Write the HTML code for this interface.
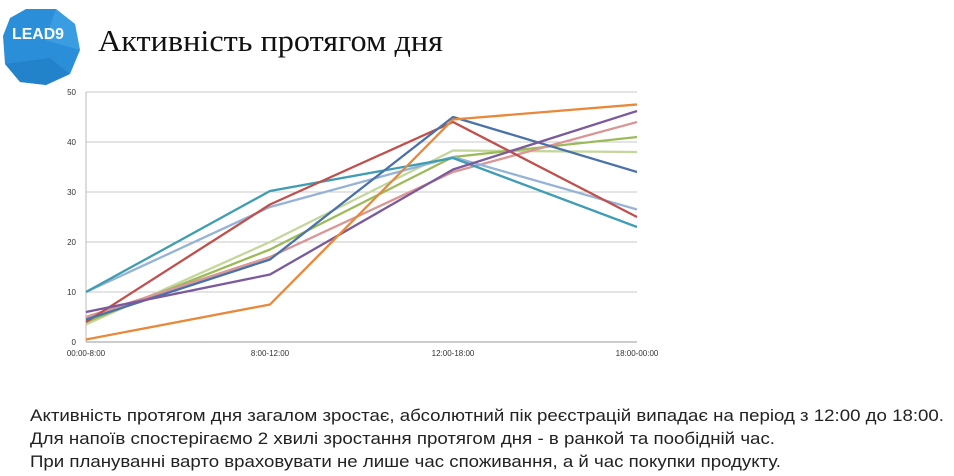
<!DOCTYPE html>
<html><head><meta charset="utf-8"><style>html,body{margin:0;padding:0;background:#fff;width:954px;height:476px;overflow:hidden}</style></head>
<body>
<svg width="954" height="476" xmlns="http://www.w3.org/2000/svg" font-family="Liberation Sans, sans-serif">
<rect width="954" height="476" fill="#fff"/>
<!-- logo -->
<polygon points="26,9 56,9 75,24 80,50 70,74 46,85 20,82 5,64 3,36 10,18" fill="#2a8fd8"/>
<polygon points="46,85 20,82 5,64 50,58 70,74" fill="#1f7cc4" opacity="0.7"/>
<polygon points="56,9 75,24 80,50 45,40" fill="#48a6e8" opacity="0.6"/>
<text x="12" y="39" font-size="16" font-weight="bold" fill="#fff" textLength="52" lengthAdjust="spacingAndGlyphs">LEAD9</text>
<!-- title -->
<text x="98" y="51" font-family="Liberation Serif, serif" font-size="31" fill="#111" textLength="345" lengthAdjust="spacingAndGlyphs">Активність протягом дня</text>
<!-- grid -->
<g stroke="#c8c8c8" stroke-width="1">
<line x1="86" y1="92" x2="637" y2="92"/>
<line x1="86" y1="142" x2="637" y2="142"/>
<line x1="86" y1="192" x2="637" y2="192"/>
<line x1="86" y1="242" x2="637" y2="242"/>
<line x1="86" y1="292" x2="637" y2="292"/>
</g>
<line x1="86" y1="92" x2="86" y2="342" stroke="#bbb"/>
<line x1="86" y1="342" x2="637" y2="342" stroke="#999"/>
<g font-size="8" fill="#333" text-anchor="end">
<text x="76" y="95">50</text><text x="76" y="145">40</text><text x="76" y="195">30</text>
<text x="76" y="245">20</text><text x="76" y="295">10</text><text x="76" y="345">0</text>
</g>
<g font-size="8" fill="#333" text-anchor="middle">
<text x="86" y="356">00:00-8:00</text><text x="270" y="356">8:00-12:00</text>
<text x="453" y="356">12:00-18:00</text><text x="637" y="356">18:00-00:00</text>
</g>
<g fill="none" stroke-width="2.3" stroke-linejoin="round">
<polyline stroke="#c3d69b" points="86,324.5 270,242 453,150.5 637,152"/>
<polyline stroke="#9bbb59" points="86,322 270,249.5 453,157 637,137"/>
<polyline stroke="#d99694" points="86,317 270,257 453,172 637,122"/>
<polyline stroke="#95b3d7" points="86,292 270,207 453,157 637,209.5"/>
<polyline stroke="#3f9db3" points="86,292 270,191 453,158 637,227"/>
<polyline stroke="#c0504d" points="86,322 270,204.5 453,122 637,217"/>
<polyline stroke="#4a72a8" points="86,319.5 270,259.5 453,117 637,172"/>
<polyline stroke="#7b5a9c" points="86,312 270,274.5 453,169.5 637,111"/>
<polyline stroke="#e8883a" points="86,339.5 270,304.5 453,119.5 637,104.5"/>
</g>
<g font-size="17" fill="#222">
<text x="30" y="421" textLength="914" lengthAdjust="spacingAndGlyphs">Активність протягом дня загалом зростає, абсолютний пік реєстрацій випадає на період з 12:00 до 18:00.</text>
<text x="30" y="444" textLength="745" lengthAdjust="spacingAndGlyphs">Для напоїв спостерігаємо 2 хвилі зростання протягом дня - в ранкой та пообідній час.</text>
<text x="30" y="467" textLength="751" lengthAdjust="spacingAndGlyphs">При плануванні варто враховувати не лише час споживання, а й час покупки продукту.</text>
</g>
</svg>
</body></html>
